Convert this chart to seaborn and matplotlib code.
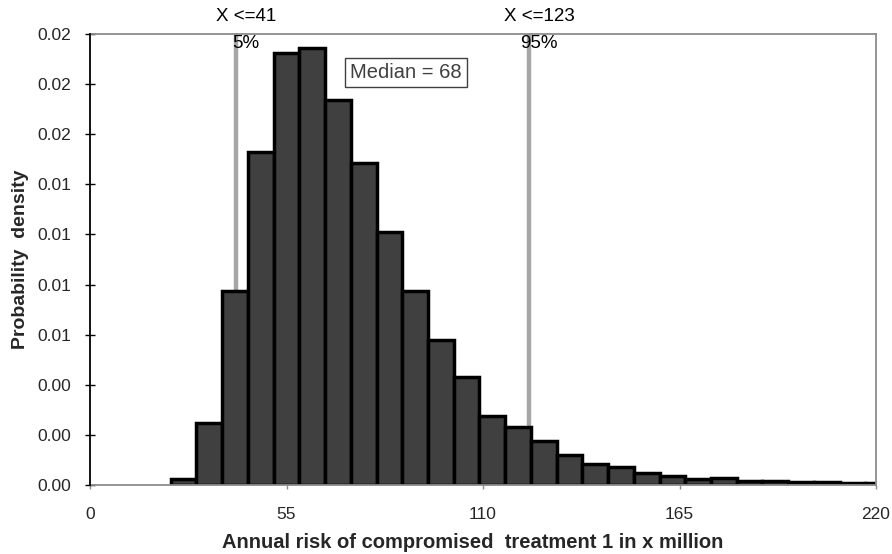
import matplotlib
matplotlib.use("Agg")
import matplotlib.pyplot as plt
import matplotlib.transforms as mtransforms
import seaborn as sns

# Histogram bins (x in "1 in x million")
bin_edges = [22.6, 29.8, 37.0, 44.2, 51.4, 58.6, 65.8, 73.0, 80.2, 87.4,
             94.6, 101.8, 109.0, 116.2, 123.4, 130.6, 137.8, 145.0, 152.2,
             159.4, 166.6, 173.8, 181.0, 188.2, 195.4, 202.6, 209.8, 217.0, 224.2]
density = [0.00025, 0.00271, 0.00853, 0.01463, 0.01895, 0.01917, 0.01690,
           0.01412, 0.01109, 0.00853, 0.00637, 0.00473, 0.00304, 0.00256,
           0.00194, 0.00132, 0.00091, 0.00080, 0.00051, 0.00041, 0.00026,
           0.00032, 0.00018, 0.00016, 0.00012, 0.00012, 0.00010, 0.00007]

x_ticks = [0, 55, 110, 165, 220]
y_ticks = [0, 0.0022, 0.0044, 0.0066, 0.0088, 0.0110, 0.0132, 0.0154, 0.0176, 0.0198]
y_tick_labels = ["0.00", "0.00", "0.00", "0.01", "0.01", "0.01", "0.01", "0.02", "0.02", "0.02"]

percentiles = [41, 123]
percentile_labels = [("X <=41", "5%"), ("X <=123", "95%")]
median_value = 68

sns.set_theme(style="white")
plt.rcParams["font.family"] = ["Liberation Sans", "DejaVu Sans"]

fig = plt.figure(figsize=(8.92, 5.54), dpi=100)
ax = fig.add_axes([0.1009, 0.1245, 0.8812, 0.8141])

centers = [(a + b) / 2 for a, b in zip(bin_edges[:-1], bin_edges[1:])]
sns.histplot(x=centers, weights=density, bins=bin_edges, stat="count",
             color="#404040", edgecolor="black", linewidth=2.5, alpha=1,
             ax=ax, zorder=2)

# percentile markers sit behind the bars
for p in percentiles:
    ax.axvline(p, color="#a6a6a6", lw=3.2, zorder=1)

trans = mtransforms.blended_transform_factory(ax.transData, ax.transAxes)
for p, (top, bottom) in zip(percentiles, percentile_labels):
    ax.annotate(top, xy=(p, 1.038), xycoords=trans, xytext=(6.8, 0),
                textcoords="offset points", ha="center", va="center",
                fontsize=13.5, color="black")
    ax.annotate(bottom, xy=(p, 0.979), xycoords=trans, xytext=(6.8, 0),
                textcoords="offset points", ha="center", va="center",
                fontsize=13.5, color="black", zorder=5)

ax.text(88.5, 0.01813, f"Median = {median_value}", ha="center", va="center",
        fontsize=14.5, color="#404040", zorder=5,
        bbox=dict(boxstyle="square,pad=0.25", facecolor="white",
                  edgecolor="#404040", linewidth=1))

ax.set_xlim(0, 220)
ax.set_ylim(0, 0.0198)
ax.set_xticks(x_ticks)
ax.set_xticklabels([str(t) for t in x_ticks], fontsize=12.5)
ax.set_yticks(y_ticks)
ax.set_yticklabels(y_tick_labels, fontsize=12.5)

for side in ["top", "right", "bottom"]:
    ax.spines[side].set_color("#8c8c8c")
    ax.spines[side].set_linewidth(1.3)
ax.spines["left"].set_color("black")
ax.spines["left"].set_linewidth(1.3)
ax.spines["left"].set_zorder(3)

ax.tick_params(axis="y", direction="inout", length=7, width=1, color="black",
               left=True, pad=10)
ax.tick_params(axis="x", direction="out", length=3, width=1, color="#8c8c8c",
               bottom=True, pad=13)

ax.set_xlabel("Annual risk of compromised  treatment 1 in x million",
              fontsize=14.5, fontweight="bold", labelpad=8)
ax.xaxis.label.set_x(0.4866)
ax.set_ylabel("Probability  density", fontsize=14, fontweight="bold",
              labelpad=6)
ax.grid(False)

fig.savefig("out.png", dpi=100)
